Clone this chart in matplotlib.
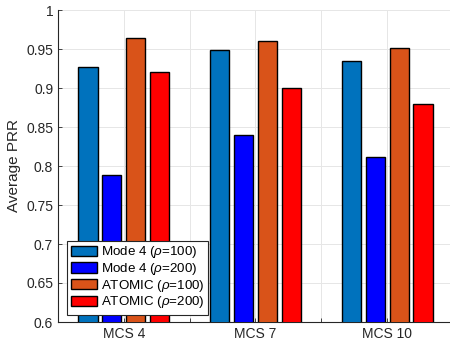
import matplotlib
matplotlib.use("Agg")
import matplotlib.pyplot as plt
import numpy as np

categories = ["MCS 4", "MCS 7", "MCS 10"]
series_names = ["Mode 4 ($\\rho$=100)", "Mode 4 ($\\rho$=200)",
                "ATOMIC ($\\rho$=100)", "ATOMIC ($\\rho$=200)"]
mode4_100 = [0.927, 0.949, 0.934]
mode4_200 = [0.789, 0.840, 0.811]
atomic_100 = [0.964, 0.960, 0.951]
atomic_200 = [0.921, 0.900, 0.880]
colors = ["#0072BD", "#0000FF", "#D95319", "#FF0000"]

plt.rcParams['font.family'] = ['Liberation Sans', 'DejaVu Sans']
plt.rcParams['mathtext.fontset'] = 'custom'
plt.rcParams['mathtext.it'] = 'Liberation Sans:italic'
plt.rcParams['mathtext.rm'] = 'Liberation Sans'

fig = plt.figure(figsize=(4.5, 3.44), dpi=100)
ax = fig.add_axes([58/450, 22/344, (453-58)/450, (322-10)/344])

x = np.arange(1, len(categories) + 1)
data = [mode4_100, mode4_200, atomic_100, atomic_200]
n = len(data)
groupw = min(0.8, n / (n + 1.5))
step = groupw / n
bw = step * 0.8
for i, (vals, c, name) in enumerate(zip(data, colors, series_names)):
    off = (i - (n - 1) / 2) * step
    ax.bar(x + off, vals, width=bw, color=c, edgecolor='black', linewidth=1.0,
           label=name, zorder=3)

ax.set_xlim(0.5, 3.5)
ax.set_ylim(0.6, 1.0)
ax.set_xticks(np.arange(0.5, 3.51, 0.5))
ax.set_xticklabels(["", "MCS 4", "", "MCS 7", "", "MCS 10", ""])
ax.set_yticks(np.arange(0.6, 1.001, 0.05))
ax.set_yticklabels(["0.6", "0.65", "0.7", "0.75", "0.8", "0.85", "0.9", "0.95", "1"])
ax.tick_params(direction='in', length=3, width=0.6, colors='#262626', labelsize=10)
ax.grid(True, color='#e6e6e6', linewidth=0.7, zorder=0)
ax.set_axisbelow(True)
for s in ['top', 'right']:
    ax.spines[s].set_visible(False)
for s in ['left', 'bottom']:
    ax.spines[s].set_color('#262626')
    ax.spines[s].set_linewidth(0.8)
ax.set_ylabel("Average PRR", fontsize=11, color='#262626')

leg = ax.legend(loc='lower left', fontsize=9.6, frameon=True,
                fancybox=False, edgecolor='#262626', framealpha=1,
                handlelength=2.0, handleheight=0.8, handletextpad=0.25,
                labelspacing=0.05, borderpad=0.3, borderaxespad=0)
leg.get_frame().set_linewidth(0.8)
leg.set_bbox_to_anchor((66.7/450, (344-314.5)/344), transform=fig.transFigure)
leg.set_zorder(5)

fig.savefig("out.png", dpi=100)
